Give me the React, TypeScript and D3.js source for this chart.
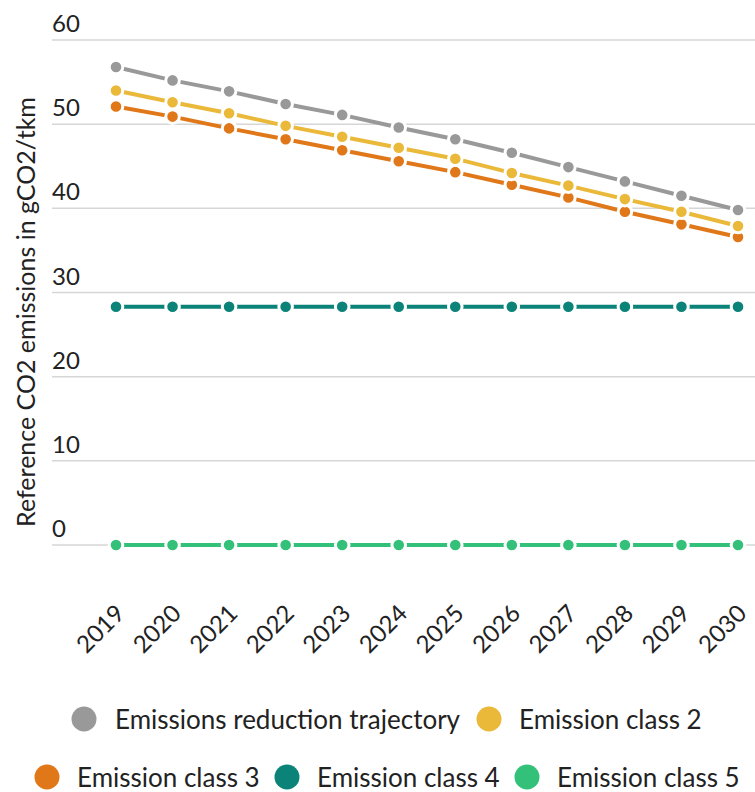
import React from "react";
import * as d3 from "d3";

const years = ["2019","2020","2021","2022","2023","2024","2025","2026","2027","2028","2029","2030"];
const trajectory = [56.8,55.2,53.9,52.4,51.1,49.6,48.2,46.6,44.9,43.2,41.5,39.8];
const class2 = [54.0,52.6,51.3,49.8,48.5,47.2,45.9,44.2,42.7,41.1,39.6,37.9];
const class3 = [52.1,50.9,49.5,48.2,46.9,45.6,44.3,42.8,41.3,39.6,38.1,36.6];
const class4 = [28.3,28.3,28.3,28.3,28.3,28.3,28.3,28.3,28.3,28.3,28.3,28.3];
const class5 = [0,0,0,0,0,0,0,0,0,0,0,0];
const yTicks = [0,10,20,30,40,50,60];
const seriesNames = ["Emissions reduction trajectory","Emission class 2","Emission class 3","Emission class 4","Emission class 5"];
const seriesColors = ["#999999","#ebb93a","#e07719","#0b8378","#33c17a"];

const FONT = "Lato, 'Source Sans Pro', sans-serif";

export default function App() {
  const W = 755, H = 792;
  const x = d3.scalePoint<string>().domain(years).range([116, 738]);
  const y = d3.scaleLinear().domain([0, 60]).range([545, 40]);
  const all = [trajectory, class2, class3, class4, class5];
  const line = d3.line<number>().x((_, i) => x(years[i])!).y(d => y(d));
  const drawOrder = [4, 3, 2, 1, 0];
  const legend = [
    { i: 0, cx: 84, cy: 719, tx: 115 },
    { i: 1, cx: 489, cy: 719, tx: 519 },
    { i: 2, cx: 47, cy: 777, tx: 77 },
    { i: 3, cx: 287, cy: 777, tx: 317 },
    { i: 4, cx: 527, cy: 777, tx: 557 },
  ];
  return (
    <svg width={W} height={H} style={{ position: "absolute", left: 0, top: 0, fontFamily: FONT }}>
      {yTicks.map(t => (
        <g key={t}>
          <line x1={52} x2={755} y1={y(t)} y2={y(t)} stroke="#d6d6d6" strokeWidth={1.5} />
          <text x={52} y={y(t) - 8} fontSize={24} fill="#222">{t}</text>
        </g>
      ))}
      <text transform={`translate(35,${312}) rotate(-90)`} textAnchor="middle" fontSize={25} fill="#222">
        Reference CO2 emissions in gCO2/tkm
      </text>
      {years.map(yr => (
        <text key={yr} transform={`translate(${x(yr)! + 10},${615}) rotate(-45)`} textAnchor="end" fontSize={24} fill="#222">{yr}</text>
      ))}
      {drawOrder.map(si => (
        <g key={si}>
          <path d={line(all[si])!} fill="none" stroke={seriesColors[si]} strokeWidth={4} />
          {all[si].map((v, i) => (
            <circle key={i} cx={x(years[i])!} cy={y(v)} r={6.8} fill={seriesColors[si]} stroke="#fff" strokeWidth={3} />
          ))}
        </g>
      ))}
      {legend.map(({ i, cx, cy, tx }) => (
        <g key={i}>
          <circle cx={cx} cy={cy} r={12.5} fill={seriesColors[i]} />
          <text x={tx} y={cy} dominantBaseline="central" fontSize={26} fill="#222">{seriesNames[i]}</text>
        </g>
      ))}
    </svg>
  );
}
